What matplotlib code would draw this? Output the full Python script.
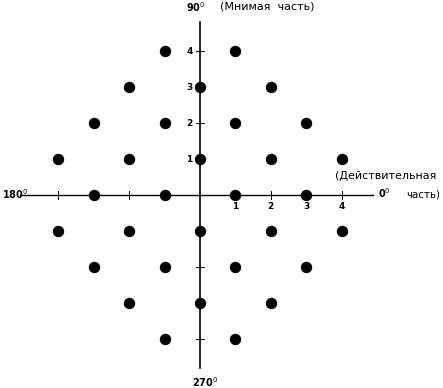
import numpy as np
import matplotlib
matplotlib.use("Agg")
import matplotlib.pyplot as plt

# signal constellation points (real, imaginary)
re_vals = [-1, 1,
           -2, 0, 2,
           -3, -1, 1, 3,
           -4, -2, 0, 2, 4,
           -3, -1, 1, 3,
           -4, -2, 0, 2, 4,
           -3, -1, 1, 3,
           -2, 0, 2,
           -1, 1]
im_vals = [4, 4,
           3, 3, 3,
           2, 2, 2, 2,
           1, 1, 1, 1, 1,
           0, 0, 0, 0,
           -1, -1, -1, -1, -1,
           -2, -2, -2, -2,
           -3, -3, -3,
           -4, -4]
tick_vals = [1, 2, 3, 4]

W, H = 443, 388
ux, uy = 35.4, 35.9
cx, cy = 200, 195

fig = plt.figure(figsize=(W / 100, H / 100), dpi=100)
ax = fig.add_axes([0, 0, 1, 1])
ax.set_xlim(-cx / ux, (W - cx) / ux)
ax.set_ylim(-(H - cy) / uy, cy / uy)
ax.axis('off')

# axes lines
ax.plot([-5.08, 4.89], [0, 0], color='black', lw=1.0)
ax.plot([0, 0], [-4.82, 4.82], color='black', lw=1.2)

# tick marks
tl = 0.1
for t in [-4, -3, -2, -1, 1, 2, 3, 4]:
    ax.plot([t, t], [-tl, tl], color='black', lw=0.7)
    ax.plot([-tl, tl], [t, t], color='black', lw=0.7)
for t in tick_vals:
    ax.text(t, -0.33, str(t), ha='center', va='center', fontsize=6.5, fontweight='bold')
    ax.text(-0.3, t, str(t), ha='center', va='center', fontsize=6.5, fontweight='bold')

ax.plot(re_vals, im_vals, 'o', color='black', markersize=7.2)

# labels
ax.text(-0.12, 5.24, r'90$^{0}$', ha='center', va='center', fontsize=7, fontweight='bold')
ax.text(0.56, 5.24, '(Мнимая  часть)', ha='left', va='center', fontsize=8)
ax.text(-5.6, 0.03, r'180$^{0}$', ha='left', va='center', fontsize=7, fontweight='bold')
ax.text(5.2, 0.05, r'0$^{0}$', ha='center', va='center', fontsize=7, fontweight='bold')
ax.text(3.8, 0.53, '(Действительная', ha='left', va='center', fontsize=8)
ax.text(5.82, 0.0, 'часть)', ha='left', va='center', fontsize=7.4)
ax.text(0.15, -5.2, r'270$^{0}$', ha='center', va='center', fontsize=7, fontweight='bold')

fig.savefig('out.png', dpi=100)
